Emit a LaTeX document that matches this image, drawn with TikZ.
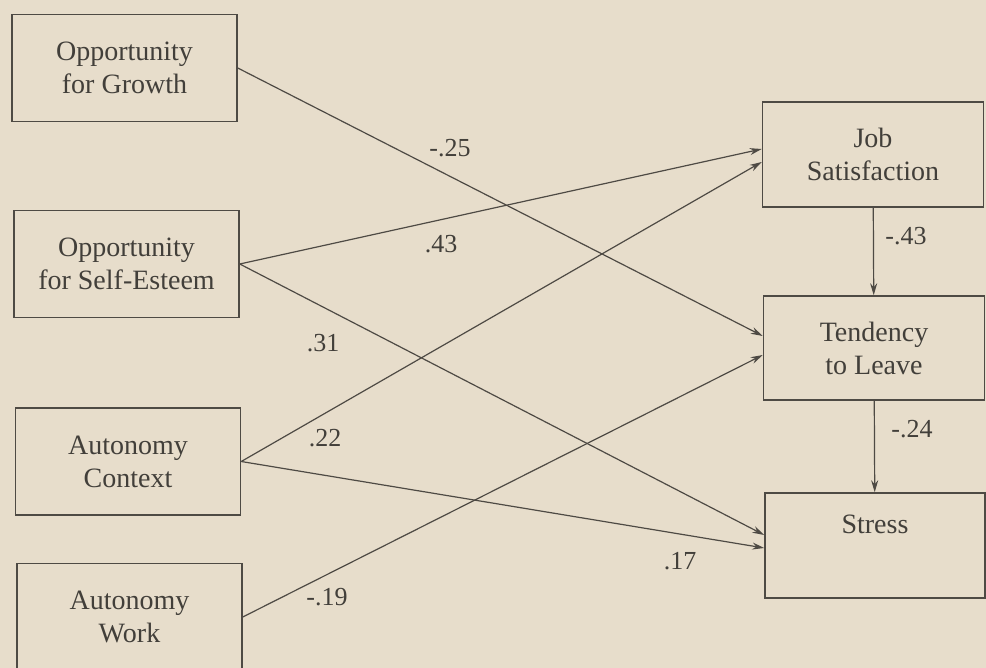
\documentclass[tikz,border=0pt]{standalone}
\usepackage{fontspec}
\setmainfont{Liberation Serif}
\usetikzlibrary{arrows.meta}
\definecolor{paper}{RGB}{231,221,203}
\definecolor{ink}{RGB}{78,74,68}

\begin{document}
\begin{tikzpicture}[x=0.5pt,y=-0.5pt,
	box/.style={draw=ink,line width=0.75pt,minimum width=112.5pt,minimum height=53.5pt,align=center,text=ink!85!black,font=\fontsize{14}{16.5}\selectfont},
	coef/.style={text=ink!85!black,font=\fontsize{13}{15}\selectfont},
	link/.style={draw=ink,line width=0.6pt,-{Stealth[length=6pt,width=3.5pt]}}]
	\fill[paper] (0,0) rectangle (986,668);
	\useasboundingbox (0,0) rectangle (986,668);
	\node[box] (growth) at (124.5,68) {Opportunity\\for Growth};
	\node[box] (esteem) at (126.5,264) {Opportunity\\for Self-Esteem};
	\node[box] (context) at (128,461.5) {Autonomy\\Context};
	\node[box] (work) at (129.5,617) {Autonomy\\Work};
	\node[box,minimum width=110.5pt,minimum height=52.5pt] (job) at (873,154.5) {Job\\Satisfaction};
	\node[box,minimum width=110.5pt,minimum height=52pt] (tendency) at (874,348) {Tendency\\to Leave};
	\node[box,minimum width=110pt,minimum height=52.5pt] (stress) at (875,545.5) {Stress\\\strut};
	\foreach \from/\to/\dy in {growth/tendency/6, esteem/job/2.75, esteem/stress/5.25, context/job/-3.75, context/stress/-1.25, work/tendency/-3.5}
		\draw[link] (\from.east) -- ([yshift=\dy pt]\to.west);
	\draw[link] (job) -- (tendency);
	\draw[link] (tendency) -- (stress);
	\node[coef] (c25) at (450,148) {-.25};
	\node[coef] (c43) at (441,244) {.43};
	\node[coef] (c31) at (323,343) {.31};
	\node[coef] (c22) at (325,438) {.22};
	\node[coef] (c19) at (327,597) {-.19};
	\node[coef] (c17) at (680,561) {.17};
	\node[coef] (cjt) at (906,236) {-.43};
	\node[coef] (cts) at (912,429) {-.24};
\end{tikzpicture}
\end{document}
